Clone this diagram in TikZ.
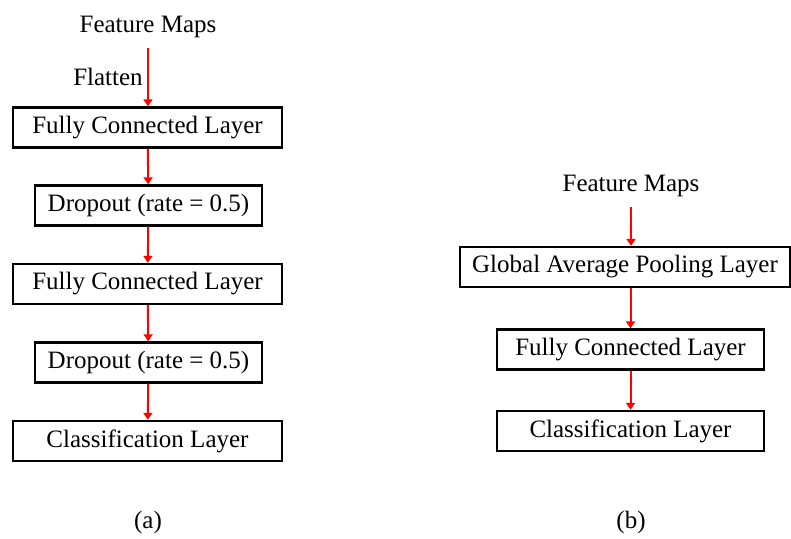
\documentclass[tikz,border=0pt]{standalone}
\usepackage{fontspec}
\setmainfont{Liberation Serif}
\usetikzlibrary{arrows.meta}

\begin{document}
\begin{tikzpicture}[x=0.5pt,y=-0.5pt,
                    every node/.style={inner sep=0pt,font=\fontsize{12.5}{15}\selectfont},
                    layer/.style={draw,line width=1.2pt,minimum height=20pt},
                    wide/.style={layer,minimum width=134.5pt},
                    narrow/.style={layer,minimum width=113.5pt},
                    flow/.style={red,line width=1pt,-{Triangle[length=3.5pt,width=4.5pt]}}]
  \useasboundingbox (0,0) rectangle (791,538);
  % (a)
  \node (fm1) at (148,27) {Feature Maps};
  \node (flat) at (108,77) {Flatten};
  \node[wide] (fc1) at (147.5,127.5) {Fully Connected Layer};
  \node[narrow] (do1) at (148.5,205.5) {Dropout (rate = 0.5)};
  \node[wide] (fc2) at (147.5,284) {Fully Connected Layer};
  \node[narrow] (do2) at (148.5,362.5) {Dropout (rate = 0.5)};
  \node[wide] (cls1) at (147.5,441) {Classification Layer};
  \node (a) at (148,522) {(a)};
  \draw[flow] (fm1.south) ++(0,10) -- (fm1.south |- fc1.north);
  \draw[flow] (fc1) -- (do1);
  \draw[flow] (do1) -- (fc2);
  \draw[flow] (fc2) -- (do2);
  \draw[flow] (do2) -- (cls1);
  % (b)
  \node (fm2) at (631,186) {Feature Maps};
  \node[layer,minimum width=165pt] (gap) at (625,267) {Global Average Pooling Layer};
  \node[layer,minimum width=133.5pt] (fc3) at (630.5,349.5) {Fully Connected Layer};
  \node[layer,minimum width=133.5pt] (cls2) at (630.5,431) {Classification Layer};
  \node (b) at (631,522) {(b)};
  \draw[flow] (fm2.south) ++(0,10) -- (fm2.south |- gap.north);
  \draw[flow] (fc3.north |- gap.south) -- (fc3.north);
  \draw[flow] (fc3) -- (cls2);
\end{tikzpicture}
\end{document}
